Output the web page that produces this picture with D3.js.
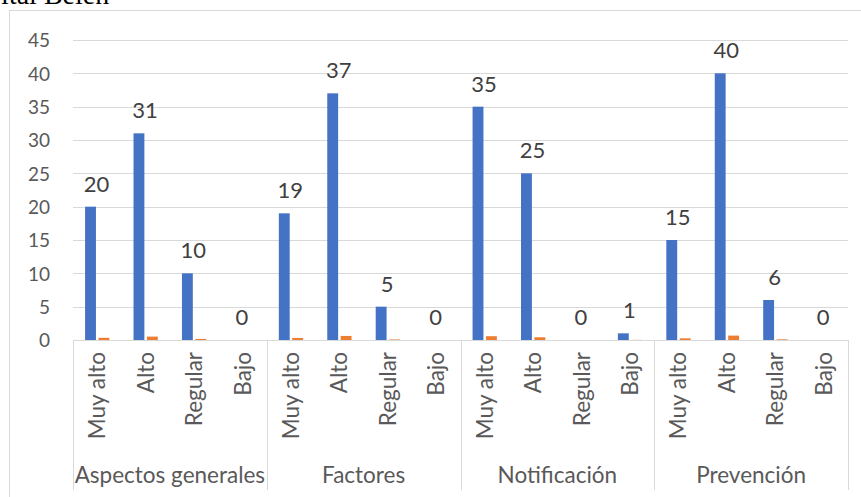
<!DOCTYPE html>
<html>
<head>
<meta charset="utf-8">
<script src="https://cdn.jsdelivr.net/npm/d3@7"></script>
<style>
  html, body { margin: 0; padding: 0; background: #fff; }
  svg { display: block; }
</style>
</head>
<body>
<svg id="chart" width="861" height="497"></svg>
<script>
// Groups and levels on the two-tier category axis
const groups = ["Aspectos generales", "Factores", "Notificación", "Prevención"];
const levels = ["Muy alto", "Alto", "Regular", "Bajo"];

// Counts per level, one row per group (labelled series)
const counts = [
  [20, 31, 10, 0],
  [19, 37, 5, 0],
  [35, 25, 0, 1],
  [15, 40, 6, 0]
];
// Share of each level within its group (small companion series)
const shares = [
  [0.33, 0.51, 0.16, 0],
  [0.31, 0.61, 0.08, 0],
  [0.57, 0.41, 0, 0.02],
  [0.25, 0.66, 0.10, 0]
];
const yTicks = [0, 5, 10, 15, 20, 25, 30, 35, 40, 45];

const FONT = "Lato, 'Open Sans', sans-serif";
const svg = d3.select("#chart");
const plotL = 73, plotR = 848, plotT = 40, base = 340;

// Outer chart frame
svg.append("rect")
  .attr("x", 9.5).attr("y", 10.5)
  .attr("width", 900).attr("height", 600)
  .attr("fill", "none").attr("stroke", "#d9d9d9").attr("stroke-width", 1);

// Caption running above the frame
svg.append("text")
  .attr("x", -58).attr("y", 4)
  .attr("font-family", "'Liberation Serif', 'Times New Roman', serif")
  .attr("font-size", 28).attr("fill", "#000")
  .text("Hospital Belén");

const rows = [];
groups.forEach((g, gi) => levels.forEach((l, li) => rows.push({
  key: g + "|" + l, group: g, level: l, count: counts[gi][li], share: shares[gi][li]
})));

const x = d3.scaleBand().domain(rows.map(d => d.key)).range([plotL, plotR]);
const sub = d3.scaleBand().domain(["count", "share"]).range([0, x.bandwidth()])
  .paddingInner(0.19).paddingOuter(0.9);
const y = d3.scaleLinear().domain([0, 45]).range([base, plotT]);

// Horizontal gridlines
svg.append("g").selectAll("line").data(yTicks.filter(t => t > 0)).join("line")
  .attr("x1", plotL).attr("x2", plotR)
  .attr("y1", d => Math.round(y(d)) + 0.5).attr("y2", d => Math.round(y(d)) + 0.5)
  .attr("stroke", "#d9d9d9").attr("stroke-width", 1);

// Value axis labels
const yAxis = d3.axisLeft(y).tickValues(yTicks).tickSize(0).tickPadding(0);
const ya = svg.append("g").attr("transform", `translate(${plotL - 23},0)`).call(yAxis);
ya.select(".domain").remove();
ya.selectAll("text")
  .attr("font-family", FONT)
  .attr("font-size", 19).attr("fill", "#595959").attr("dy", "0.36em");

// Bars
const bars = svg.append("g");
bars.selectAll("rect.count").data(rows).join("rect").attr("class", "count")
  .attr("x", d => x(d.key) + sub("count")).attr("width", sub.bandwidth())
  .attr("y", d => y(d.count)).attr("height", d => base - y(d.count))
  .attr("fill", "#4472c4");
bars.selectAll("rect.share").data(rows).join("rect").attr("class", "share")
  .attr("x", d => x(d.key) + sub("share")).attr("width", sub.bandwidth())
  .attr("y", d => y(d.share)).attr("height", d => base - y(d.share))
  .attr("fill", "#ed7d31");

// Value labels on the count bars
svg.append("g").selectAll("text").data(rows).join("text")
  .attr("x", d => x(d.key) + sub("count") + sub.bandwidth() / 2 + 6)
  .attr("y", d => y(d.count) - 15)
  .attr("text-anchor", "middle")
  .attr("font-family", FONT)
  .attr("font-size", 22).attr("fill", "#404040")
  .text(d => d.count);

// Category axis line and group separators
svg.append("line")
  .attr("x1", plotL).attr("x2", plotR).attr("y1", base + 0.5).attr("y2", base + 0.5)
  .attr("stroke", "#d9d9d9");
const bounds = groups.map(g => x(g + "|" + levels[0])).concat([plotR]);
svg.append("g").selectAll("line").data(bounds).join("line")
  .attr("x1", d => Math.round(d) + 0.5).attr("x2", d => Math.round(d) + 0.5)
  .attr("y1", base).attr("y2", 490)
  .attr("stroke", "#d9d9d9");

// Level labels, rotated
svg.append("g").selectAll("text").data(rows).join("text")
  .attr("transform", d => `translate(${x(d.key) + x.bandwidth() / 2 + 8},${base + 12}) rotate(-90)`)
  .attr("text-anchor", "end")
  .attr("font-family", FONT)
  .attr("font-size", 22.5).attr("fill", "#595959")
  .text(d => d.level);

// Group labels
svg.append("g").selectAll("text").data(groups).join("text")
  .attr("x", (g, i) => (bounds[i] + bounds[i + 1]) / 2)
  .attr("y", 483)
  .attr("text-anchor", "middle")
  .attr("font-family", FONT)
  .attr("font-size", 22.5).attr("fill", "#595959")
  .text(g => g);
</script>
</body>
</html>
